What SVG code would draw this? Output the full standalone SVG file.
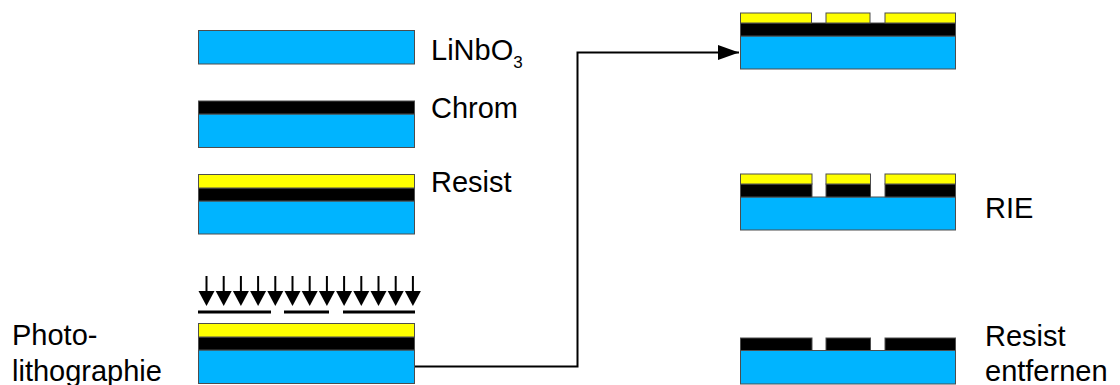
<svg xmlns="http://www.w3.org/2000/svg" width="1120" height="385" viewBox="0 0 1120 385">
<defs>
<style>
.b{fill:#00b4ff;stroke:#4d4d4d;stroke-width:1}
.y{fill:#ffff00;stroke:#4d4d4d;stroke-width:1}
.k{fill:#000;stroke:#4d4d4d;stroke-width:1}
.t{font-family:"Liberation Sans",Arial,sans-serif;font-size:29px;fill:#000}
.m{fill:none;stroke:#000;stroke-width:3}
.s{fill:none;stroke:#000;stroke-width:2}
</style>
<marker id="ah" markerUnits="userSpaceOnUse" markerWidth="22" markerHeight="16" refX="21" refY="7.5" orient="auto"><path d="M0 0L21 7.5L0 15Z" fill="#000"/></marker>
<g id="dn"><path d="M0 0V16" class="s"/><path d="M-8 15H8L0 30Z" fill="#000"/></g>
</defs>
<g id="connectors">
<path d="M414.5 366.500H577.500V52.500H739" class="s" marker-end="url(#ah)"/>
</g>
<g id="linbo3"><rect x="198.500" y="30.500" width="216" height="33.500" class="b"/>
<text x="431" y="60" class="t">LiNbO<tspan font-size="17" dy="8">3</tspan></text></g>
<g id="chrom"><rect x="198.500" y="114" width="216" height="33.500" class="b"/><rect x="198.500" y="101" width="216" height="13" class="k"/>
<text x="431" y="118" class="t">Chrom</text></g>
<g id="resist"><rect x="198.500" y="201" width="216" height="33" class="b"/><rect x="198.500" y="188" width="216" height="13" class="k"/><rect x="198.500" y="174.500" width="216" height="13.500" class="y"/>
<text x="431" y="192" class="t">Resist</text></g>
<g id="photolithographie">
<use href="#dn" x="206.500" y="276"/><use href="#dn" x="223.700" y="276"/><use href="#dn" x="240.900" y="276"/><use href="#dn" x="258.100" y="276"/><use href="#dn" x="275.300" y="276"/><use href="#dn" x="292.500" y="276"/><use href="#dn" x="309.700" y="276"/><use href="#dn" x="326.900" y="276"/><use href="#dn" x="344.100" y="276"/><use href="#dn" x="361.300" y="276"/><use href="#dn" x="378.500" y="276"/><use href="#dn" x="395.700" y="276"/><use href="#dn" x="412.900" y="276"/>
<path d="M198 312H271M284 312H329M343 312H415" class="m"/>
<rect x="198.500" y="350" width="216" height="33.500" class="b"/><rect x="198.500" y="337" width="216" height="13" class="k"/><rect x="198.500" y="323.500" width="216" height="13.500" class="y"/>
<text class="t"><tspan x="12" y="345">Photo-</tspan><tspan x="12" y="381">lithographie</tspan></text></g>
<g id="entwickeln"><rect x="740.500" y="36" width="215" height="33" class="b"/><rect x="740.500" y="23" width="215" height="13" class="k"/>
<rect x="740.500" y="13" width="71" height="10" class="y"/><rect x="826" y="13" width="44" height="10" class="y"/><rect x="885" y="13" width="70.500" height="10" class="y"/></g>
<g id="rie"><rect x="740.500" y="197" width="215" height="33" class="b"/>
<rect x="740.500" y="184" width="71.500" height="13" class="k"/><rect x="826" y="184" width="44.500" height="13" class="k"/><rect x="885" y="184" width="70.500" height="13" class="k"/>
<rect x="740.500" y="174" width="71.500" height="10" class="y"/><rect x="826" y="174" width="44.500" height="10" class="y"/><rect x="885" y="174" width="70.500" height="10" class="y"/>
<text x="985" y="218" class="t">RIE</text></g>
<g id="resist-entfernen"><rect x="740.500" y="350.500" width="215" height="33.500" class="b"/>
<rect x="740.500" y="338" width="71.500" height="12.500" class="k"/><rect x="826" y="338" width="44.500" height="12.500" class="k"/><rect x="885" y="338" width="70.500" height="12.500" class="k"/>
<text class="t"><tspan x="985" y="346">Resist</tspan><tspan x="985" y="381">entfernen</tspan></text></g>
</svg>
